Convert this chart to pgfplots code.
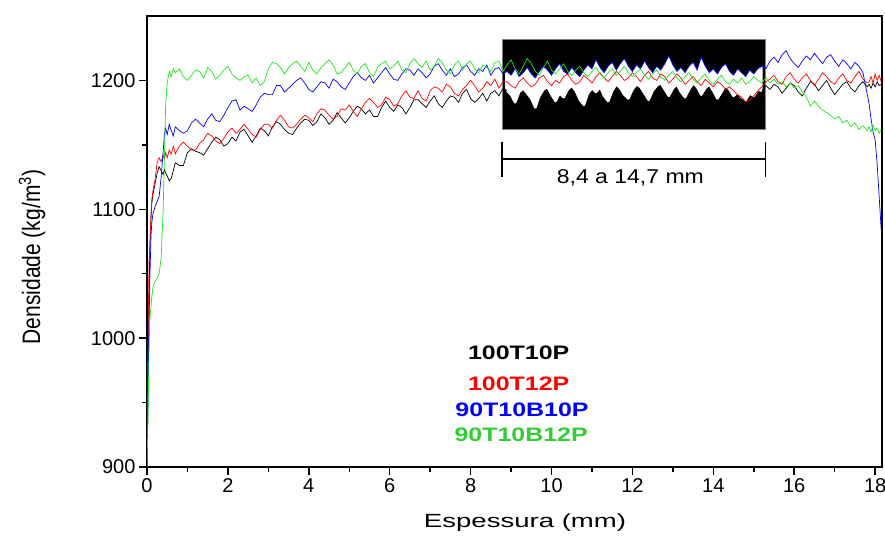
\documentclass[border=0pt]{standalone}
\usepackage{pgfplots}
\pgfplotsset{compat=1.18}
\usepgfplotslibrary{fillbetween}
\usepackage{pgfplotstable}
\usepackage{graphicx}
\usepackage{fontspec}
\setmainfont{Liberation Sans}
\usetikzlibrary{calc}
\definecolor{cgreen}{RGB}{30,230,30}
\definecolor{tgreen}{RGB}{50,205,50}
\definecolor{cred}{RGB}{255,0,0}
\definecolor{cblue}{RGB}{0,0,255}

\pgfplotstableread{
x k r b g
0.00 900 900 900 900
0.02 950 980 942 930
0.05 1032 1060 1010 990
0.07 1070 1071 1045 1014
0.10 1095 1095 1080 1025
0.12 1105 1108 1090 1032
0.15 1112 1115 1097 1040
0.20 1120 1123 1102 1044
0.25 1128 1136 1106 1046
0.30 1133 1140 1110 1050
0.35 1130 1137 1125 1062
0.40 1127 1142 1145 1100
0.43 1131 1139 1158 1140
0.46 1128 1144 1163 1180
0.50 1126 1140 1158 1198
0.55 1122 1146 1166 1207
0.60 1124 1143 1161 1203
0.65 1130 1149 1157 1209
0.7 1136 1143 1164 1206
0.8 1134 1149 1161 1209
0.9 1134 1152 1159 1203
1.0 1144 1149 1161 1200
1.1 1147 1146 1167 1204
1.2 1145 1146 1170 1208
1.3 1144 1151 1167 1207
1.4 1142 1154 1164 1202
1.5 1147 1159 1170 1210
1.6 1152 1157 1174 1207
1.7 1156 1153 1169 1201
1.8 1154 1151 1168 1204
1.9 1149 1155 1173 1208
2.0 1151 1160 1179 1211
2.1 1156 1163 1184 1205
2.2 1153 1159 1185 1202
2.3 1160 1162 1177 1200
2.4 1162 1166 1180 1203
2.5 1157 1162 1178 1204
2.6 1152 1158 1176 1198
2.7 1157 1156 1181 1202
2.8 1163 1162 1187 1196
2.9 1161 1166 1190 1199
3.0 1157 1166 1189 1209
3.1 1164 1163 1189 1214
3.2 1168 1169 1196 1213
3.3 1166 1173 1196 1210
3.4 1162 1169 1191 1205
3.5 1159 1164 1194 1210
3.6 1158 1163 1197 1213
3.7 1163 1166 1200 1215
3.8 1167 1170 1202 1211
3.9 1170 1173 1198 1207
4.0 1169 1171 1193 1214
4.1 1165 1168 1191 1208
4.2 1168 1174 1195 1205
4.3 1174 1178 1199 1210
4.4 1171 1177 1198 1213
4.5 1166 1173 1194 1216
4.6 1169 1170 1201 1212
4.7 1175 1172 1199 1205
4.8 1171 1178 1195 1206
4.9 1167 1177 1193 1210
5.0 1171 1181 1198 1214
5.1 1176 1176 1203 1208
5.2 1180 1172 1206 1205
5.3 1178 1178 1202 1211
5.4 1174 1183 1200 1213
5.5 1177 1186 1204 1206
5.6 1172 1183 1198 1203
5.7 1172 1179 1202 1210
5.8 1179 1181 1206 1213
5.9 1184 1187 1210 1215
6.0 1179 1185 1205 1209
6.1 1176 1180 1201 1211
6.2 1181 1182 1200 1215
6.3 1179 1188 1205 1208
6.4 1174 1192 1209 1206
6.5 1179 1187 1208 1213
6.6 1185 1186 1204 1217
6.7 1185 1192 1209 1213
6.8 1182 1186 1206 1210
6.9 1179 1184 1202 1215
7.0 1184 1192 1205 1208
7.1 1188 1195 1211 1211
7.2 1182 1194 1213 1217
7.3 1179 1191 1208 1214
7.4 1184 1197 1204 1208
7.5 1188 1195 1209 1205
7.6 1187 1190 1203 1212
7.7 1183 1188 1205 1215
7.8 1190 1193 1210 1208
7.9 1193 1196 1212 1213
8.0 1186 1200 1207 1215
8.1 1183 1196 1204 1209
8.2 1186 1191 1209 1206
8.3 1190 1194 1207 1212
8.4 1184 1199 1212 1210
8.5 1190 1196 1204 1207
8.6 1192 1201 1209 1214
8.7 1188 1194 1210 1215
8.8 1194 1199 1205 1207
8.9 1192 1199 1207 1212
9.0 1189 1196 1204 1216
9.1 1183 1194 1209 1209
9.2 1191 1199 1203 1205
9.3 1194 1202 1206 1211
9.4 1190 1198 1210 1217
9.5 1186 1195 1205 1213
9.6 1179 1197 1202 1207
9.7 1188 1202 1207 1204
9.8 1193 1204 1211 1210
9.9 1195 1199 1208 1215
10.0 1189 1196 1204 1208
10.1 1184 1200 1209 1205
10.2 1190 1198 1213 1209
10.3 1187 1203 1207 1213
10.4 1193 1205 1205 1207
10.5 1196 1200 1210 1204
10.6 1192 1197 1206 1208
10.7 1185 1199 1203 1211
10.8 1181 1204 1208 1206
10.9 1190 1201 1212 1203
11.0 1194 1198 1209 1207
11.1 1191 1203 1216 1210
11.2 1195 1206 1210 1205
11.3 1188 1202 1206 1202
11.4 1184 1199 1211 1206
11.5 1192 1203 1214 1209
11.6 1197 1207 1208 1204
11.7 1194 1204 1213 1207
11.8 1189 1200 1217 1211
11.9 1186 1202 1211 1206
12.0 1193 1206 1207 1203
12.1 1197 1203 1212 1206
12.2 1195 1199 1209 1209
12.3 1190 1204 1215 1204
12.4 1185 1207 1210 1201
12.5 1192 1202 1206 1205
12.6 1196 1200 1211 1208
12.7 1198 1205 1208 1203
12.8 1193 1203 1213 1200
12.9 1188 1198 1219 1204
13.0 1194 1201 1212 1207
13.1 1197 1205 1207 1202
13.2 1191 1202 1210 1199
13.3 1187 1197 1206 1203
13.4 1193 1200 1211 1206
13.5 1198 1203 1214 1201
13.6 1195 1199 1208 1198
13.7 1189 1196 1218 1202
13.8 1194 1201 1211 1205
13.9 1197 1198 1206 1200
14.0 1192 1195 1209 1197
14.1 1186 1199 1205 1201
14.2 1191 1197 1210 1204
14.3 1196 1193 1213 1199
14.4 1193 1195 1207 1197
14.5 1188 1192 1204 1201
14.6 1191 1189 1209 1198
14.7 1187 1187 1206 1202
14.8 1185 1183 1203 1197
14.9 1190 1185 1208 1199
15.0 1188 1188 1205 1203
15.1 1193 1192 1209 1200
15.2 1192 1195 1211 1198
15.3 1196 1199 1209 1202
15.4 1193 1201 1215 1198
15.5 1197 1204 1218 1201
15.6 1195 1199 1214 1197
15.7 1190 1197 1220 1199
15.8 1194 1203 1223 1195
15.9 1198 1206 1217 1198
16.0 1196 1201 1213 1194
16.1 1191 1198 1210 1196
16.2 1188 1202 1215 1191
16.3 1194 1205 1219 1187
16.4 1199 1200 1216 1180
16.5 1197 1196 1221 1184
16.6 1192 1201 1217 1180
16.7 1196 1206 1213 1177
16.8 1200 1203 1218 1175
16.9 1194 1199 1220 1173
17.0 1189 1197 1215 1170
17.1 1193 1202 1211 1172
17.2 1197 1205 1216 1167
17.3 1199 1200 1213 1169
17.4 1194 1198 1209 1164
17.5 1191 1203 1214 1167
17.6 1196 1207 1211 1162
17.7 1199 1201 1206 1165
17.8 1195 1198 1190 1161
17.85 1197 1199 1182 1164
17.9 1194 1203 1170 1160
17.95 1198 1198 1160 1165
18.0 1195 1205 1154 1161
18.05 1199 1200 1135 1163
18.1 1196 1204 1110 1159
18.15 1197 1199 1084 1162
}\data

\begin{document}
\begin{tikzpicture}
\begin{axis}[
  name=ax,
  set layers,
  scale only axis,
  width=735pt, height=451pt,
  xmin=0, xmax=18.17, ymin=900, ymax=1250,
  axis line style={line width=1.5pt},
  xtick={0,2,...,18}, minor x tick num=1,
  ytick={900,1000,1100,1200}, minor y tick num=1,
  tick align=outside, xtick pos=bottom, ytick pos=left,
  major tick length=8pt, minor tick length=5pt,
  every tick/.style={line width=1.5pt, black},
  /pgf/number format/assume math mode=true,
  /pgf/number format/1000 sep={},
  ticklabel style={font=\fontsize{20}{22}\selectfont},
  clip=true,
]
\addplot[fill=black, draw=gray, line width=0.8pt, on layer=axis background] coordinates {(8.78,1162) (15.29,1162) (15.29,1232) (8.78,1232) (8.78,1162)};
\addplot[black, line width=0.7pt, name path=K] table[x=x, y=k]{\data};
\addplot[draw=none, name path=B0, forget plot] table[x=x, y=b]{\data};
\addplot[fill=white, draw=none] fill between[of=B0 and K, soft clip={domain=8.85:15.22}];
\addplot[white, line width=2.5pt, line join=round, restrict x to domain=8.88:15.2] table[x=x, y=k]{\data};
\addplot[cred, line width=0.7pt] table[x=x, y=r]{\data};
\addplot[cblue, line width=0.7pt] table[x=x, y=b]{\data};
\addplot[cgreen, line width=0.7pt] table[x=x, y=g]{\data};

\draw[line width=1.5pt] (axis cs:8.78,1139) -- (axis cs:15.29,1139);
\draw[line width=1.5pt] (axis cs:8.78,1152) -- (axis cs:8.78,1125);
\draw[line width=1.5pt] (axis cs:15.29,1152) -- (axis cs:15.29,1125);
\node at (axis cs:11.95,1124.5) {\scalebox{1.15}[1]{\fontsize{20}{22}\selectfont 8,4 a 14,7 mm}};

\node at (axis cs:9.19,988.7) {\scalebox{1.28}[1]{\fontsize{19.5}{22}\selectfont\bfseries 100T10P}};
\node[text=cred] at (axis cs:9.19,964.6) {\scalebox{1.28}[1]{\fontsize{19.5}{22}\selectfont\bfseries 100T12P}};
\node[text=cblue] at (axis cs:9.27,944.4) {\scalebox{1.28}[1]{\fontsize{19.5}{22}\selectfont\bfseries 90T10B10P}};
\node[text=tgreen] at (axis cs:9.25,925.3) {\scalebox{1.28}[1]{\fontsize{19.5}{22}\selectfont\bfseries 90T10B12P}};

\coordinate (bl) at (rel axis cs:0,0);
\coordinate (tr) at (rel axis cs:1,1);
\end{axis}
\node at ($(bl)+(378pt,-56pt)$) {\scalebox{1.45}[1]{\fontsize{19}{21}\selectfont Espessura (mm)}};
\node[rotate=90] at ($(bl)+(-115pt,210pt)$) {\scalebox{1}[1.2]{\fontsize{21}{23}\selectfont Densidade (kg/m\textsuperscript{3})}};
\pgfresetboundingbox
\path[use as bounding box] ($(bl)+(-147pt,-68pt)$) rectangle ($(tr)+(3pt,16pt)$);
\end{tikzpicture}
\end{document}
